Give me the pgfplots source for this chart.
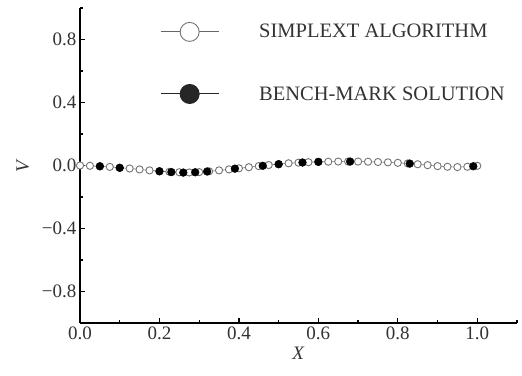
\documentclass[border=0pt]{standalone}
\usepackage{fontspec}
\setmainfont{Liberation Serif}
\usepackage{pgfplots}
\pgfplotsset{compat=1.18}
\begin{document}
\begin{tikzpicture}[font=\fontsize{19}{21}\selectfont]
\begin{axis}[
  scale only axis, width=437pt, height=315pt,
  xmin=0, xmax=1.1, ymin=-1, ymax=1,
  axis x line*=bottom, axis y line*=left,
  axis line style={line width=1.3pt, -},
  tick align=inside,
  major tick length=5pt, minor tick length=3pt,
  tick style={line width=1.2pt, black},
  xtick={0,0.2,0.4,0.6,0.8,1.0},
  xticklabels={0.0,0.2,0.4,0.6,0.8,1.0},
  minor xtick={0.1,0.3,0.5,0.7,0.9,1.1},
  ytick={-0.8,-0.4,0,0.4,0.8},
  yticklabels={−0.8,−0.4,0.0,0.4,0.8},
  minor ytick={-0.6,-0.2,0.2,0.6,1.0},
  xlabel={\textit{X}}, ylabel={\textit{V}},
  xlabel style={yshift=-1pt},
  ylabel style={yshift=6pt},
  tick label style={text=black!80},
  label style={text=black!80},
  legend style={at={(rel axis cs:0.183,0.955)}, anchor=north west, draw=none, fill=none,
    inner sep=0pt, row sep=43pt, column sep=38pt, text=black!80,
    font=\fontsize{20.5}{22}\selectfont},
  legend cell align=left,
  legend image code/.code={\draw[#1] plot coordinates {(0pt,0pt) (29pt,0pt) (58pt,0pt)};},
]
\addplot[black!55, line width=0.6pt, mark=*, mark size=3.6pt,
  mark options={draw=black!55, fill=white, line width=0.9pt},
  legend image post style={black!60, mark size=9.5pt, mark repeat=2, mark phase=2, line width=1pt}]
coordinates {
(0.000,0.000) (0.025,-0.002) (0.050,-0.005) (0.075,-0.009) (0.100,-0.014)
(0.125,-0.019) (0.150,-0.025) (0.175,-0.031) (0.200,-0.036) (0.225,-0.040)
(0.250,-0.043) (0.275,-0.044) (0.300,-0.042) (0.325,-0.037) (0.350,-0.031)
(0.375,-0.025) (0.400,-0.018) (0.425,-0.011) (0.450,-0.004) (0.475,0.003)
(0.500,0.009) (0.525,0.014) (0.550,0.018) (0.575,0.021) (0.600,0.023)
(0.625,0.024) (0.650,0.025) (0.675,0.025) (0.700,0.025) (0.725,0.024)
(0.750,0.022) (0.775,0.020) (0.800,0.017) (0.825,0.013) (0.850,0.008)
(0.875,0.002) (0.900,-0.004) (0.925,-0.008) (0.950,-0.010) (0.975,-0.008)
(1.000,-0.002)
};
\addlegendentry{SIMPLEXT ALGORITHM}
\addplot[only marks, black, mark=*, mark size=3.9pt,
  legend image post style={black!85, mark size=9.5pt, mark repeat=2, mark phase=2, line width=1pt, sharp plot}]
coordinates {
(0.050,-0.005) (0.100,-0.015) (0.200,-0.037) (0.230,-0.042) (0.260,-0.045)
(0.290,-0.043) (0.320,-0.038) (0.390,-0.020) (0.460,-0.002) (0.500,0.008)
(0.560,0.019) (0.600,0.023) (0.680,0.025) (0.830,0.012) (0.990,-0.005)
};
\addlegendentry{BENCH-MARK SOLUTION}
\end{axis}
\path (current axis.south west) ++(-80pt,-53pt);
\path (current axis.north east) ++(5pt,8pt);
\end{tikzpicture}
\end{document}
